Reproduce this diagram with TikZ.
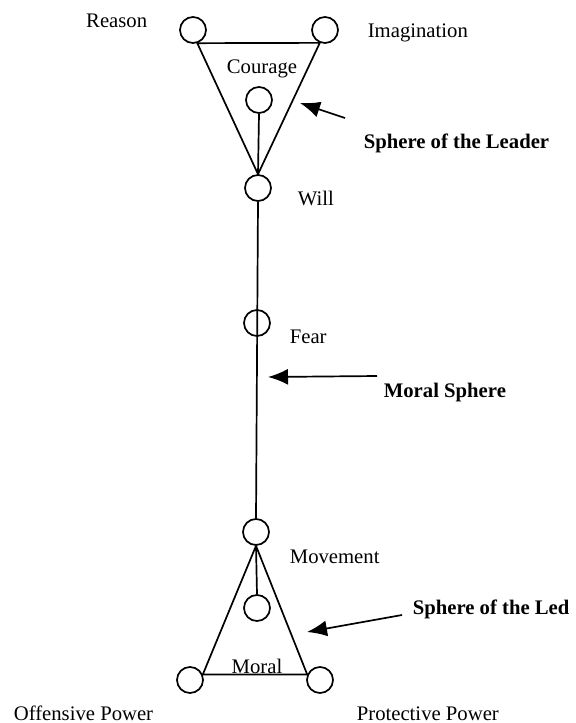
\documentclass[tikz,border=0pt]{standalone}
\usepackage{fontspec}
\setmainfont{Liberation Serif}
\usetikzlibrary{arrows.meta}

\begin{document}
\begin{tikzpicture}[x=0.5pt,y=-0.5pt,font=\fontsize{10.35pt}{12pt}\selectfont,line width=0.85pt,
    spot/.style={draw,circle,inner sep=0pt,minimum size=13pt},
    lbl/.style={anchor=base west,inner sep=0pt},
    pointer/.style={-{Latex[length=10pt,width=8pt]}}]
        \useasboundingbox (0,0) rectangle (575,723);
        \node[spot] (reason) at (193,30) {};
        \node[spot] (imag) at (325,30) {};
        \node[spot] (courage) at (259,100) {};
        \node[spot] (will) at (258,188) {};
        \node[spot] (fear) at (257,323) {};
        \node[spot] (movement) at (256,532) {};
        \node[spot] (moral) at (257,608) {};
        \node[spot] (offense) at (190,680) {};
        \node[spot] (protect) at (320,680) {};
        \draw (reason.-72) -- (imag.-112) -- (will.north) -- cycle;
        \draw (courage.south) -- (will.north);
        \draw (will.south) -- (movement.north);
        \draw (movement.south) -- (offense.23) -- (protect.157) -- cycle;
        \draw (movement.south) -- (moral.north);
        \node[lbl,anchor=base east] (reasonlbl) at (148,27) {Reason};
        \node[lbl] (imaglbl) at (367,37) {Imagination};
        \node[lbl,anchor=base] (couragelbl) at (262,73) {Courage};
        \node[lbl] (willlbl) at (297,205) {Will};
        \node[lbl] (fearlbl) at (289,343) {Fear};
        \node[lbl] (movementlbl) at (289,563) {Movement};
        \node[lbl,anchor=base] (morallbl) at (257,673) {Moral};
        \node[lbl] (offenselbl) at (13,720) {Offensive Power};
        \node[lbl] (protectlbl) at (356,720) {Protective Power};
        \node[lbl,font=\fontsize{10.35pt}{12pt}\selectfont\bfseries] (leaderlbl) at (363,148) {Sphere of the Leader};
        \node[lbl,font=\fontsize{10.35pt}{12pt}\selectfont\bfseries] (spherelbl) at (383,397) {Moral Sphere};
        \node[lbl,font=\fontsize{10.35pt}{12pt}\selectfont\bfseries] (ledlbl) at (412,614) {Sphere of the Led};
        \coordinate (leadertail) at (345,118);
        \coordinate (leadertip) at (300,103);
        \coordinate (spheretail) at (377,376);
        \coordinate (spheretip) at (268,377);
        \coordinate (ledtail) at (402,615);
        \coordinate (ledtip) at (307,632);
        \draw[pointer] (leadertail) -- (leadertip);
        \draw[pointer] (spheretail) -- (spheretip);
        \draw[pointer] (ledtail) -- (ledtip);
\end{tikzpicture}
\end{document}
